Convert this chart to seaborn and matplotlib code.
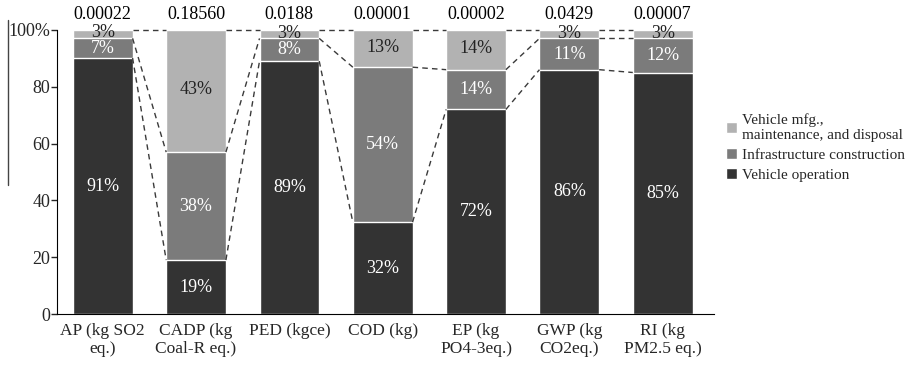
import numpy as np
import pandas as pd
import matplotlib
matplotlib.use("Agg")
import matplotlib.pyplot as plt
import seaborn as sns
from matplotlib.patches import Patch
from matplotlib.lines import Line2D

# ====================================
# DATA
# ====================================
categories = ["AP (kg SO2\neq.)", "CADP (kg\nCoal-R eq.)", "PED (kgce)", "COD (kg)",
              "EP (kg\nPO4-3eq.)", "GWP (kg\nCO2eq.)", "RI (kg\nPM2.5 eq.)"]
operation = [91, 19, 89, 32, 72, 86, 85]
infrastructure = [7, 38, 8, 54, 14, 11, 12]
vehicle_mfg = [3, 43, 3, 13, 14, 3, 3]
totals_text = ["0.00022", "0.18560", "0.0188", "0.00001", "0.00002", "0.0429", "0.00007"]

c_light = "#b2b2b2"
c_mid = "#7b7b7b"
c_dark = "#333333"

# Stack shares normalised to 100%
df = pd.DataFrame({"cat": categories, "op": operation, "inf": infrastructure, "mfg": vehicle_mfg})
tot = df[["op", "inf", "mfg"]].sum(axis=1)
df["lvl1"] = df["op"] / tot * 100
df["lvl2"] = (df["op"] + df["inf"]) / tot * 100
df["lvl3"] = 100.0

# ====================================
# PLOT
# ====================================
sns.set_style("white")
plt.rcParams["font.family"] = ["Liberation Serif", "DejaVu Serif"]

fig = plt.figure(figsize=(9.15, 3.69), dpi=100)
ax = fig.add_axes([0.0623, 0.149, 0.718, 0.770])

bw = 0.64
for col, color in [("lvl3", c_light), ("lvl2", c_mid), ("lvl1", c_dark)]:
    sns.barplot(data=df, x="cat", y=col, color=color, width=bw, saturation=1,
                edgecolor="white", linewidth=1, ax=ax)

# dashed connector lines between neighbouring bars
for i in range(len(df) - 1):
    for col in ["lvl1", "lvl2", "lvl3"]:
        ax.plot([i + bw / 2, i + 1 - bw / 2], [df[col][i], df[col][i + 1]],
                color="#3a3a3a", linestyle=(0, (4, 3)), linewidth=1, zorder=5, clip_on=False)

# segment labels
fs = 13
for i, row in df.iterrows():
    ax.text(i, row["lvl1"] / 2, f"{row['op']}%", ha="center", va="center", color="white", fontsize=fs)
    ax.text(i, (row["lvl1"] + row["lvl2"]) / 2, f"{row['inf']}%", ha="center", va="center", color="white", fontsize=fs)
    ax.text(i, (row["lvl2"] + 100) / 2 + 0.4, f"{row['mfg']}%", ha="center", va="center", color="#222222", fontsize=fs)
    ax.text(i, 102.5, totals_text[i], ha="center", va="bottom", color="black", fontsize=fs, clip_on=False)

ax.set_xlim(-0.49, 6.55)
ax.set_ylim(0, 100)
ax.set_yticks([0, 20, 40, 60, 80, 100])
ax.set_yticklabels(["0", "20", "40", "60", "80", "100%"])
ax.set_xlabel("")
ax.set_ylabel("")
ax.tick_params(axis="y", left=True, length=4, width=1, labelsize=13, pad=1)
ax.tick_params(axis="x", bottom=False, labelsize=12.5, pad=3)
for lab in ax.get_xticklabels():
    lab.set_linespacing(1.15)
sns.despine(ax=ax, top=True, right=True)
ax.spines["left"].set_color("black")
ax.spines["bottom"].set_color("black")

handles = [Patch(facecolor=c_light, label="Vehicle mfg.,\nmaintenance, and disposal"),
           Patch(facecolor=c_mid, label="Infrastructure construction"),
           Patch(facecolor=c_dark, label="Vehicle operation")]
fig.legend(handles=handles, loc="center left", bbox_to_anchor=(0.790, 0.60), frameon=False,
           fontsize=11, handlelength=0.75, handleheight=0.75, handletextpad=0.3, labelspacing=0.4,
           borderpad=0.2, borderaxespad=0)

# stray vertical rule on the left edge
fig.add_artist(Line2D([8 / 915, 8 / 915], [1 - 20 / 369, 1 - 185 / 369], color="#444444", linewidth=1))

plt.savefig("out.png", dpi=100)
